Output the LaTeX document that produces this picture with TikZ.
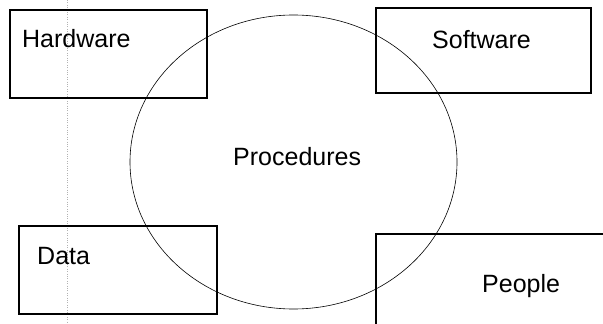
\documentclass[tikz,border=0pt]{standalone}
\usepackage{fontspec}
\setmainfont{Liberation Sans}
\usetikzlibrary{shapes.geometric,positioning}

\begin{document}
\begin{tikzpicture}[x=1pt, y=-1pt,
		box/.style={draw, line width=1.1pt, inner sep=0pt},
		lbl/.style={font=\fontsize{25}{30}\selectfont, inner sep=0pt, anchor=base west}]

			\def\W{603} \def\H{324}
			\useasboundingbox (0,0) rectangle (\W,\H);

			% faint dotted guide line
			\coordinate (gtop) at (67,0);
			\coordinate (gbot) at (67,\H);
			\draw[gray!60, dotted, thin] (gtop) -- (gbot);

			% boxes
			\node[box, minimum width=197pt, minimum height=88pt] (hw) at (108.5,54) {};
			\node[box, minimum width=215pt, minimum height=85pt] (sw) at (483.5,50.5) {};
			\node[box, minimum width=198pt, minimum height=88pt] (dt) at (118,270) {};

			% people: open corner only
			\coordinate (pp) at (376,234);
			\coordinate (ppdown) at (376,\H);
			\coordinate (ppright) at (\W,234);
			\draw[line width=1.1pt] (ppdown) -- (pp) -- (ppright);

			% procedures
			\node[draw, ellipse, line width=0.6pt, minimum width=327pt, minimum height=294pt] (proc) at (293.5,162) {};

			% labels
			\node[lbl] (hwtext) at (22,47) {Hardware};
			\node[lbl] (swtext) at (432,48) {Software};
			\node[lbl] (dttext) at (37,264) {Data};
			\node[lbl] (pptext) at (482,292) {People};
			\node[lbl] (proctext) at (233,165) {Procedures};
		\end{tikzpicture}
\end{document}
